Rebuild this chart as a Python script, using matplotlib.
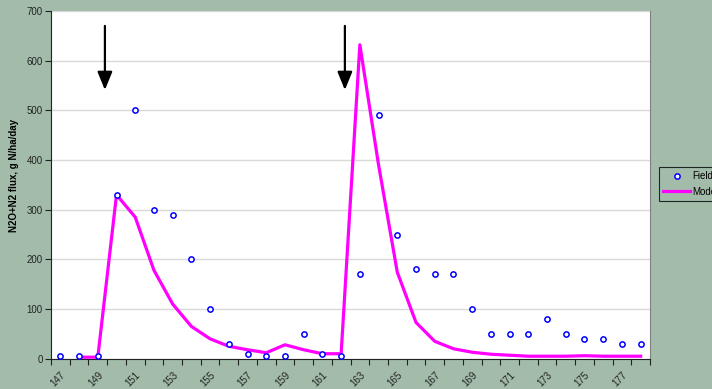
import numpy as np
import matplotlib
matplotlib.use('Agg')
import matplotlib.pyplot as plt

# Days of year (one category per day) and daily N2O+N2 flux
days = list(range(147, 179))
field = [5, 5, 5, 330, 500, 300, 290, 200, 100, 30, 10, 5, 5, 50, 10, 5,
         170, 490, 250, 180, 170, 170, 100, 50, 50, 50, 80, 50, 40, 40, 30, 30]
model = [np.nan, 3, 3, 330, 285, 178, 110, 65, 40, 25, 18, 12, 28, 18, 10, 10,
         632, 390, 174, 73, 35, 20, 13, 9, 7, 5, 5, 5, 6, 5, 5, 5]
tick_labels = [str(d) for d in days[::2]]
# Application events marked with arrows (category position)
events = [2.38, 15.2]

bg = '#a3bcaa'
plt.rcParams['font.family'] = ['Liberation Sans', 'DejaVu Sans']

fig = plt.figure(figsize=(7.12, 3.89), dpi=100, facecolor=bg)
ax = fig.add_axes([51 / 712, 1 - 358.7 / 389, 599 / 712, 347.7 / 389])
ax.set_facecolor('white')

x = np.arange(len(days))
ax.plot(x, field, linestyle='none', marker='o', markersize=3.8,
        markerfacecolor='white', markeredgecolor='#0000ff', markeredgewidth=1.1,
        label='Field', zorder=4)
ax.plot(x, model, color='#ff00ff', linewidth=2.3, label='Model', zorder=3)

for e in events:
    ax.annotate('', xy=(e, 541), xytext=(e, 670),
                arrowprops=dict(arrowstyle='-|>,head_width=0.45,head_length=1.1',
                                color='black', lw=1.6, shrinkA=0, shrinkB=0))

ax.set_xlim(-0.5, len(days) - 0.5)
ax.set_ylim(0, 700)
ax.set_yticks(range(0, 701, 100))
ax.set_xticks(x[::2])
ax.set_xticklabels(tick_labels, rotation=45, ha='right', rotation_mode='anchor')
ax.set_xticks(np.arange(-0.5, len(days), 1), minor=True)
ax.tick_params(axis='x', which='major', length=0, pad=8, labelsize=7, colors='#222222')
ax.tick_params(axis='x', which='minor', length=4, width=0.8, color='#222222')
ax.tick_params(axis='y', length=4, width=0.8, labelsize=7, colors='#222222', pad=2)

ax.yaxis.grid(True, color='#d9d9d9', linewidth=1)
ax.set_axisbelow(True)
ax.spines['top'].set_visible(False)
ax.spines['right'].set_color('#808080')
ax.spines['bottom'].set_color('#222222')
ax.spines['left'].set_color('#222222')

fig.text(14 / 712, 1 - 175 / 389, 'N2O+N2 flux, g N/ha/day', rotation=90,
         ha='center', va='center', fontsize=7, fontweight='bold')

leg = fig.legend(loc='upper left', bbox_to_anchor=(659 / 712, 1 - 167 / 389),
                 borderaxespad=0, fontsize=7, frameon=True, fancybox=False,
                 edgecolor='black', handlelength=2.7, borderpad=0.45,
                 labelspacing=0.55, handletextpad=0.3)
leg.get_frame().set_linewidth(0.8)
leg.get_frame().set_facecolor(bg)

fig.savefig('out.png', dpi=100, facecolor=bg)
